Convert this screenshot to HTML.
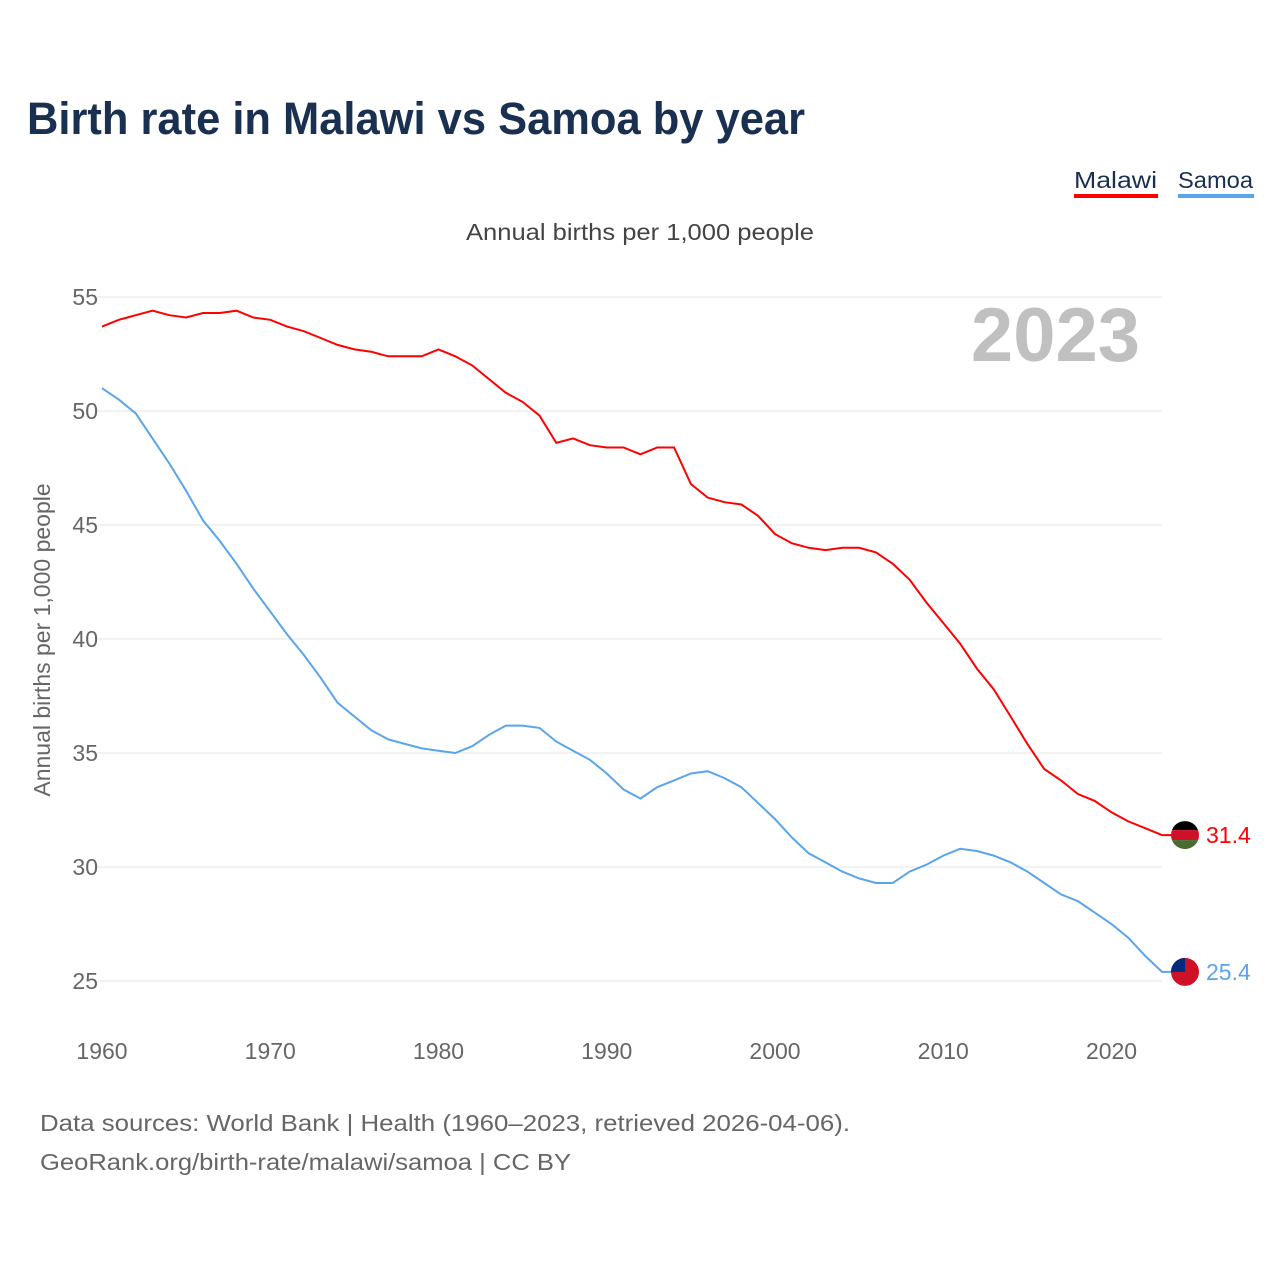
<!DOCTYPE html>
<html><head><meta charset="utf-8"><style>
body{margin:0;background:#fff;font-family:"Liberation Sans",sans-serif}
svg text{font-family:"Liberation Sans",sans-serif}
</style></head><body>
<svg id="c" width="1280" height="1280" xmlns="http://www.w3.org/2000/svg">
<text x="27" y="134" font-size="45" font-weight="bold" fill="#1a3050" textLength="778" lengthAdjust="spacingAndGlyphs">Birth rate in Malawi vs Samoa by year</text>
<g><text x="1074" y="188" font-size="23" fill="#1a3050" textLength="83" lengthAdjust="spacingAndGlyphs">Malawi</text><rect x="1074" y="194" width="84" height="4" fill="#ff0000"/></g>
<g><text x="1178" y="188" font-size="23" fill="#1a3050" textLength="75" lengthAdjust="spacingAndGlyphs">Samoa</text><rect x="1178" y="194" width="76" height="4" fill="#5aa5ea"/></g>
<text x="466" y="240" font-size="23" fill="#444" textLength="348" lengthAdjust="spacingAndGlyphs">Annual births per 1,000 people</text>
<text x="1140" y="361" font-size="76" font-weight="bold" fill="#c0c0c0" text-anchor="end">2023</text>
<text transform="translate(50,640) rotate(-90)" font-size="23" fill="#666" text-anchor="middle">Annual births per 1,000 people</text>
<g id="grid"></g><g id="lines"></g>
<text x="40" y="1131" font-size="23" fill="#666" textLength="810" lengthAdjust="spacingAndGlyphs">Data sources: World Bank | Health (1960–2023, retrieved 2026-04-06).</text>
<text x="40" y="1170" font-size="23" fill="#666" textLength="531" lengthAdjust="spacingAndGlyphs">GeoRank.org/birth-rate/malawi/samoa | CC BY</text>
</svg>
<script>
const years=[];for(let y=1960;y<=2023;y++)years.push(y);
const yTicks=[25,30,35,40,45,50,55];
const xTicks=[1960,1970,1980,1990,2000,2010,2020];
const malawi=[53.7,54.0,54.2,54.4,54.2,54.1,54.3,54.3,54.4,54.1,54.0,53.7,53.5,53.2,52.9,52.7,52.6,52.4,52.4,52.4,52.7,52.4,52.0,51.4,50.8,50.4,49.8,48.6,48.8,48.5,48.4,48.4,48.1,48.4,48.4,46.8,46.2,46.0,45.9,45.4,44.6,44.2,44.0,43.9,44.0,44.0,43.8,43.3,42.6,41.6,40.7,39.8,38.7,37.8,36.6,35.4,34.3,33.8,33.2,32.9,32.4,32.0,31.7,31.4];
const samoa=[51.0,50.5,49.9,48.8,47.7,46.5,45.2,44.3,43.3,42.2,41.2,40.2,39.3,38.3,37.2,36.6,36.0,35.6,35.4,35.2,35.1,35.0,35.3,35.8,36.2,36.2,36.1,35.5,35.1,34.7,34.1,33.4,33.0,33.5,33.8,34.1,34.2,33.9,33.5,32.8,32.1,31.3,30.6,30.2,29.8,29.5,29.3,29.3,29.8,30.1,30.5,30.8,30.7,30.5,30.2,29.8,29.3,28.8,28.5,28.0,27.5,26.9,26.1,25.4];
const X=y=>102+(y-1960)*(1162-102)/63;
const Y=v=>297+(55-v)*684/30;
const NS="http://www.w3.org/2000/svg";
const g=document.getElementById('grid'),L=document.getElementById('lines');
function mk(tag,at,par){const e=document.createElementNS(NS,tag);for(const k in at)e.setAttribute(k,at[k]);par.appendChild(e);return e;}
yTicks.forEach(t=>{
 const l=mk('line',{x1:98,x2:1162,y1:Y(t),y2:Y(t),stroke:'#e6e6e6','stroke-width':1},g);
 
 
 const tx=mk('text',{x:98,y:Y(t)+8,'font-size':23,fill:'#666','text-anchor':'end'},g);tx.textContent=t;
 
 
});
xTicks.forEach(t=>{
 const tx=mk('text',{x:X(t),y:1059,'font-size':23,fill:'#666','text-anchor':'middle'},g);tx.textContent=t;
 
 
});
function series(d,col,name,flag){
 let p=d.map((v,i)=>(i?'L':'M')+X(years[i]).toFixed(1)+','+Y(v).toFixed(1)).join('');
 const last=d[d.length-1];
 p+='L1185,'+Y(last).toFixed(1);
 const path=mk('path',{d:p,fill:'none',stroke:col,'stroke-width':2},L);
 
 
 const fg=mk('g',{},L);
 
 
 const cy=Y(last);
 if(flag==='mw'){
  mk('rect',{x:1170,y:cy-15,width:30,height:10,fill:'#000'},fg);
  mk('rect',{x:1170,y:cy-5,width:30,height:10,fill:'#ce1126'},fg);
  mk('rect',{x:1170,y:cy+5,width:30,height:10,fill:'#4a6b30'},fg);
 }else{
  mk('rect',{x:1170,y:cy-15,width:30,height:30,fill:'#ce1126'},fg);
  mk('rect',{x:1170,y:cy-15,width:15,height:15,fill:'#002b7f'},fg);
 }
 const cp=mk('clipPath',{id:'cp'+flag},L);mk('circle',{cx:1185,cy:cy,r:14},cp);
 fg.setAttribute('clip-path','url(#cp'+flag+')');
 const t=mk('text',{x:1206,y:cy+8,'font-size':23,fill:col},L);t.textContent=last.toFixed(1);
 
 
}
series(malawi,'#ff0000','malawi','mw');
series(samoa,'#5aa5ea','samoa','ws');
</script>
</body></html>
